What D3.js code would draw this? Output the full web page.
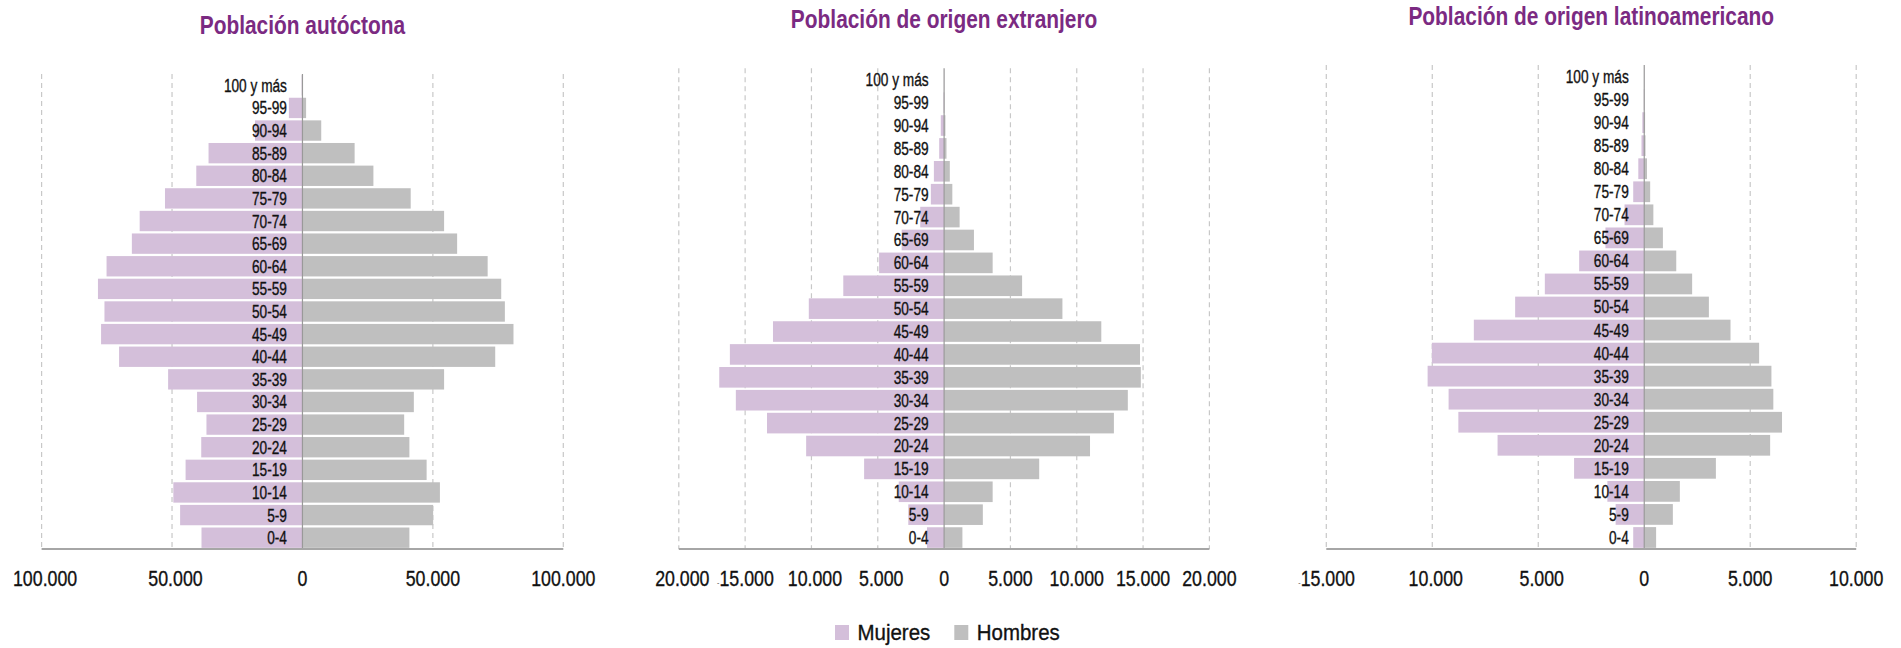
<!DOCTYPE html>
<html><head><meta charset="utf-8">
<script src="https://cdn.jsdelivr.net/npm/d3@7"></script>
<style>
body{margin:0;background:#fff;}
text{font-family:"Liberation Sans",Arial,sans-serif;}
.thick{stroke:#111;stroke-width:0.35px;paint-order:stroke;}
</style></head>
<body><svg id="c" width="1901" height="648"></svg>
<script>
// Age groups, bottom (0-4) to top (100 y más)
const ages = ["0-4","5-9","10-14","15-19","20-24","25-29","30-34","35-39","40-44","45-49","50-54","55-59","60-64","65-69","70-74","75-79","80-84","85-89","90-94","95-99","100 y más"];

const titles = ["Población autóctona","Población de origen extranjero","Población de origen latinoamericano"];

const autoctonaMujeres = [38700,46900,49500,44800,38800,36800,40400,51500,70300,77200,75900,78400,75100,65400,62400,52700,40700,36000,18200,5200,300];
const autoctonaHombres = [41000,50100,52700,47600,41000,39000,42700,54300,73900,80900,77600,76200,71000,59300,54300,41500,27200,20000,7200,1400,100];

const extranjeroMujeres = [1290,2700,3420,6030,10400,13350,15700,16950,16150,12900,10200,7600,4900,3200,1800,1000,770,370,250,40,10];
const extranjeroHombres = [1380,2920,3660,7170,11000,12800,13850,14830,14770,11850,8920,5880,3660,2250,1170,620,430,180,100,20,5];

const latinoMujeres = [520,1350,1740,3310,6920,8770,9230,10220,10020,8040,6090,4690,3070,1830,930,520,280,130,90,20,5];
const latinoHombres = [560,1350,1680,3380,5940,6500,6090,6000,5420,4070,3050,2260,1510,880,430,280,130,60,40,10,5];

const ticks1 = [-100000,-50000,0,50000,100000];
const ticks2 = [-20000,-15000,-10000,-5000,0,5000,10000,15000,20000];
const ticks3 = [-15000,-10000,-5000,0,5000,10000];

const legendLabels = ["Mujeres","Hombres"];

const colW = "#d4bfda", colM = "#bfbfbf", titleCol = "#7b2a82";

const panels = [
  {title:titles[0], w:autoctonaMujeres, m:autoctonaHombres, domain:[-100000,100000], ticks:ticks1, xr:[41.6,563.3], top:74, dashLeft:[]},
  {title:titles[1], w:extranjeroMujeres, m:extranjeroHombres, domain:[-20000,20000], ticks:ticks2, xr:[678.8,1209.4], top:68.3, dashLeft:[-15000]},
  {title:titles[2], w:latinoMujeres, m:latinoHombres, domain:[-15000,10000], ticks:ticks3, xr:[1326.3,1856.2], top:65, dashLeft:[-15000]}
];

const loc = d3.formatLocale({decimal:",",thousands:".",grouping:[3],currency:["",""]});
const fmt = loc.format(",d");

const svg = d3.select("#c");
const bottom = 549;

panels.forEach(p=>{
  const g = svg.append("g");
  const x = d3.scaleLinear().domain(p.domain).range(p.xr);
  const y = d3.scaleBand().domain(ages.slice().reverse()).range([p.top,bottom]).paddingInner(0.1).paddingOuter(0.05);

  // gridlines
  g.selectAll("line.grid").data(p.ticks.filter(t=>t!==0)).join("line")
    .attr("x1",d=>x(d)).attr("x2",d=>x(d)).attr("y1",p.top).attr("y2",bottom)
    .attr("stroke","#c8c8c8").attr("stroke-width",1.2).attr("stroke-dasharray","5,4");

  // bars
  g.selectAll("rect.w").data(ages).join("rect")
    .attr("x",(d,i)=>x(-p.w[i])).attr("width",(d,i)=>x(0)-x(-p.w[i]))
    .attr("y",d=>y(d)).attr("height",y.bandwidth()).attr("fill",colW);
  g.selectAll("rect.m").data(ages).join("rect")
    .attr("x",x(0)).attr("width",(d,i)=>x(p.m[i])-x(0))
    .attr("y",d=>y(d)).attr("height",y.bandwidth()).attr("fill",colM);

  // zero line
  g.append("line").attr("x1",x(0)).attr("x2",x(0)).attr("y1",p.top).attr("y2",bottom)
    .attr("stroke","#999").attr("stroke-width",1.2);
  // bottom axis line
  g.append("line").attr("x1",p.xr[0]).attr("x2",p.xr[1]).attr("y1",bottom).attr("y2",bottom)
    .attr("stroke","#a6a6a6").attr("stroke-width",2);

  // age labels
  g.selectAll("text.age").data(ages).join("text").attr("class","thick")
    .attr("transform",d=>`translate(${x(0)-15.5},${y(d)+y.bandwidth()/2}) scale(0.76,1)`)
    .attr("dy","0.36em")
    .attr("text-anchor","end").attr("font-size",18).attr("fill","#111").text(d=>d);

  // tick labels (negative ones sit a little right of their gridline, as in the original)
  const tl = g.selectAll("text.tick").data(p.ticks).join("text").attr("class","thick")
    .attr("transform",d=>`translate(${x(d)+(d<0?3.5:0)},586) scale(0.79,1)`)
    .attr("text-anchor","middle")
    .attr("font-size",22.5).attr("fill","#111");
  tl.each(function(d){
    const t = d3.select(this);
    if(p.dashLeft.includes(d)){
      t.append("tspan").attr("font-size",9).attr("fill","#666").attr("stroke","none").attr("dx",-4).text("-");
    }
    t.append("tspan").text(fmt(Math.abs(d)));
  });

  // title
  svg.append("text")
    .attr("transform",`translate(${(p.xr[0]+p.xr[1])/2},${p.top-40}) scale(0.82,1)`)
    .attr("text-anchor","middle").attr("font-size",25.5).attr("font-weight","bold")
    .attr("fill",titleCol).text(p.title);
});

// legend
const lg = svg.append("g");
const lx = [835,954.3];
[colW,colM].forEach((c,i)=>{
  lg.append("rect").attr("x",lx[i]).attr("y",625).attr("width",14).attr("height",15).attr("fill",c);
  lg.append("text").attr("class","thick").attr("transform",`translate(${lx[i]+22.5},640) scale(0.93,1)`)
    .attr("font-size",22).attr("fill","#111").text(legendLabels[i]);
});
</script></body></html>
